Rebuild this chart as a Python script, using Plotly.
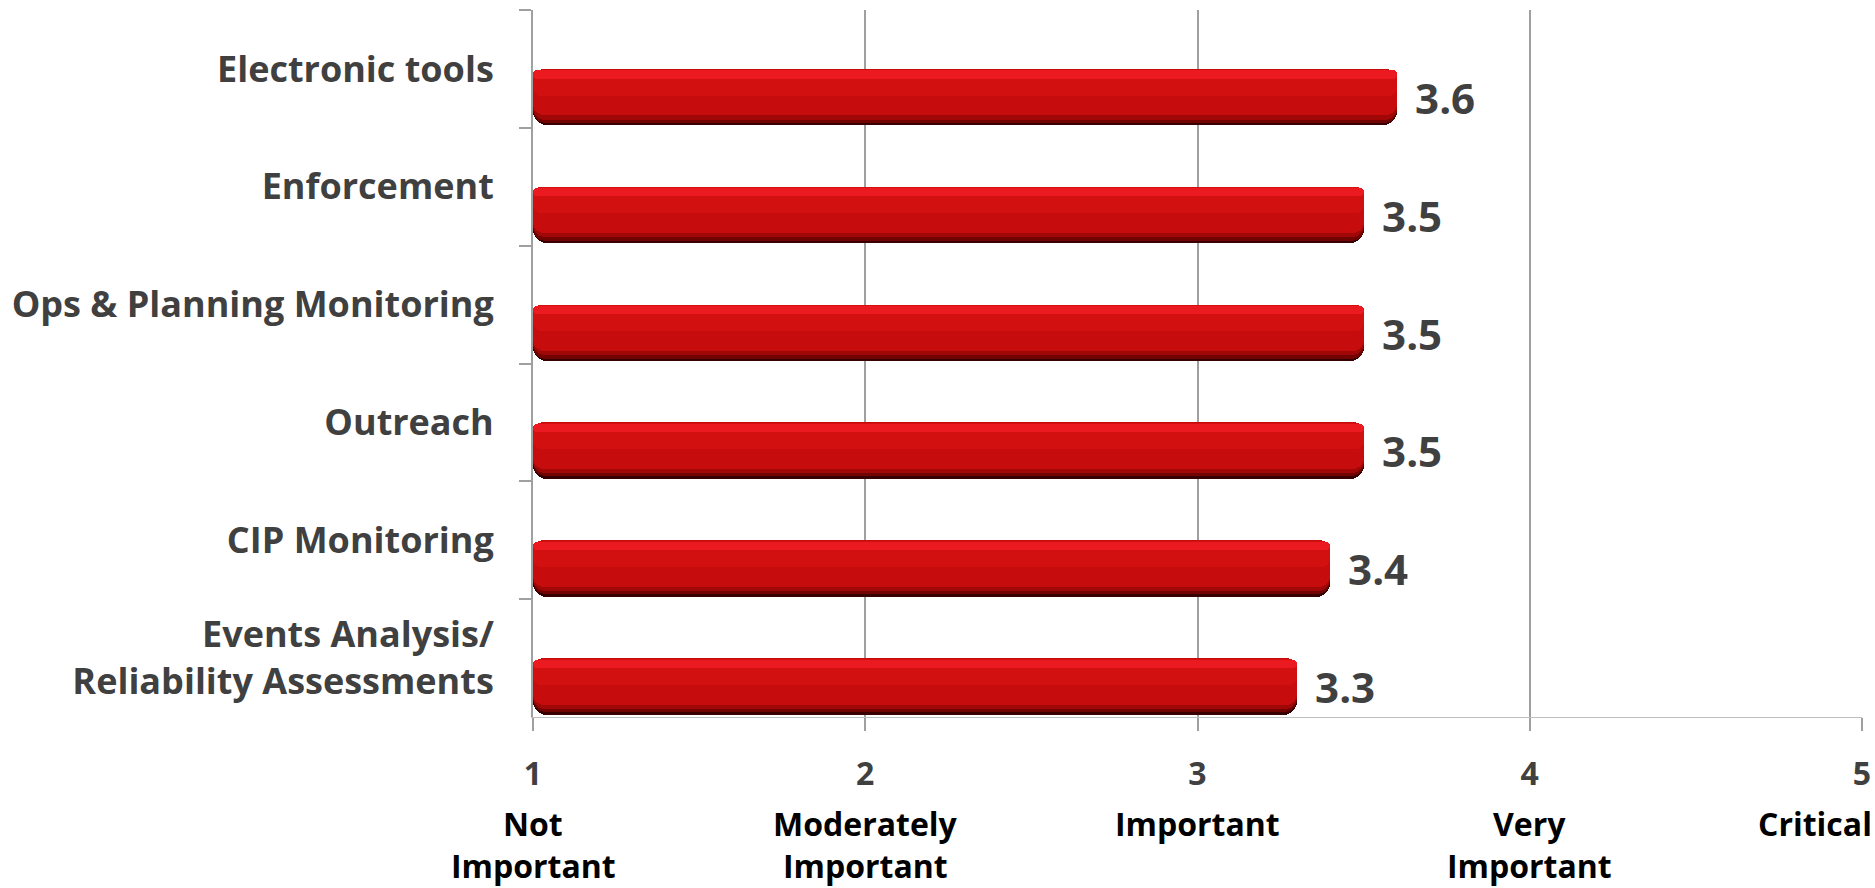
import plotly.graph_objects as go

categories = ["Electronic tools", "Enforcement", "Ops & Planning Monitoring", "Outreach",
              "CIP Monitoring", "Events Analysis/<br>Reliability Assessments"]
values = [3.6, 3.5, 3.5, 3.5, 3.4, 3.3]
x_ticks = [1, 2, 3, 4, 5]
scale_labels = ["Not<br>Important", "Moderately<br>Important", "Important", "Very<br>Important", "Critical"]

FONT = "Open Sans"
W, H = 1875, 888
L, R, T, B = 533, 13, 10, 171
PH = H - T - B

fig = go.Figure()

# layered bars to mimic the cylinder shading
layers = [
    (0.0, 0.48, "#380000", 14),
    (0.0, 0.458, "#720303", 13),
    (0.0, 0.43, "#a00808", 12),
    (0.0, 0.395, "#c60c0c", 11),
    (0.006, 0.22, "#d21010", 8),
    (0.012, 0.07, "#ea1a20", 4),
]
for i, (off, wd, col, cr) in enumerate(layers):
    fig.add_trace(go.Bar(
        x=[v - 1 for v in values], base=1, y=categories, orientation="h",
        offset=off, width=wd,
        marker=dict(color=col, line=dict(width=0), cornerradius=cr),
        text=["\u00a0\u200a" + f"{v:.1f}" for v in values] if i == 0 else None,
        textposition="outside" if i == 0 else "none",
        constraintext="none", cliponaxis=False,
        textfont=dict(family=FONT, size=42, color="#404040", weight="bold"),
        hoverinfo="skip", showlegend=False,
    ))

anchors = ["center", "center", "center", "center", "right"]
shifts = [0, 0, 0, 0, 12]
line_centers = [823, 865]
for xv, lab, an, sh in zip(x_ticks, scale_labels, anchors, shifts):
    for k, part in enumerate(lab.split("<br>")):
        fig.add_annotation(
            x=xv, y=(T + PH - line_centers[k]) / PH, xref="x", yref="paper",
            text=part, showarrow=False, xanchor=an, yanchor="middle", xshift=sh,
            font=dict(family=FONT, size=32, color="#000000", weight="bold"),
        )

fig.update_layout(
    width=W, height=H,
    margin=dict(l=L, r=R, t=T, b=B, pad=0),
    paper_bgcolor="white", plot_bgcolor="white",
    barmode="overlay", bargap=0,
    showlegend=False,
    xaxis=dict(
        range=[1, 5], tickvals=x_ticks, ticktext=[f"<b>{t}</b>" for t in x_ticks],
        showgrid=True, gridcolor="#a0a0a0", gridwidth=1.5,
        showline=True, linecolor="#bfbfbf", linewidth=1,
        ticks="outside", ticklen=13, tickcolor="#a0a0a0", tickwidth=1.5,
        tickfont=dict(family=FONT, size=32, color="#404040"),
        ticklabelstandoff=16, zeroline=False, automargin=False,
    ),
    yaxis=dict(
        categoryorder="array", categoryarray=categories, autorange="reversed",
        showline=True, linecolor="#a0a0a0", linewidth=2,
        ticks="outside", ticklen=12, tickcolor="#a0a0a0", tickwidth=2,
        tickson="boundaries", showgrid=False, automargin=False,
        tickfont=dict(family=FONT, size=36, color="#404040", weight="bold"),
        ticklabelstandoff=30,
    ),
)

fig.write_html(
    "out.html",
    config={"displayModeBar": False},
    post_script="document.body.style.margin='0';document.body.style.overflow='hidden';",
)
